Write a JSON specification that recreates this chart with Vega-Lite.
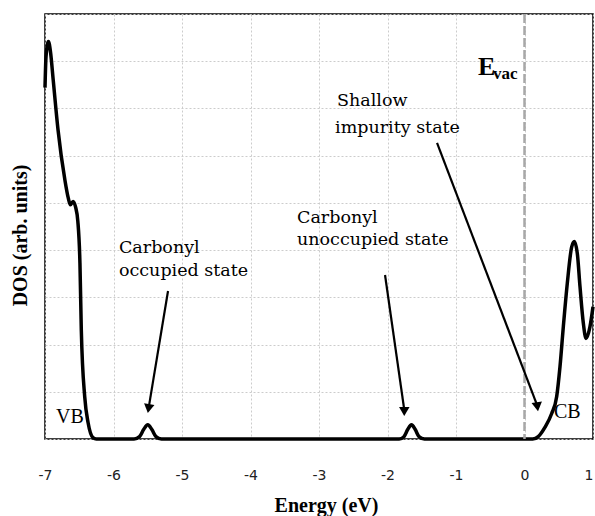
{
  "$schema": "https://vega.github.io/schema/vega-lite/v6.json",
  "width": 548,
  "height": 425,
  "autosize": "none",
  "padding": {"left": 45, "top": 14, "right": 2, "bottom": 77},
  "background": "white",
  "config": {"view": {"stroke": "black", "strokeWidth": 1.5}},
  "datasets": {
    "dos": [
      {"x": -7.0, "y": 7.44}, {"x": -6.985, "y": 8.1}, {"x": -6.95, "y": 8.42}, {"x": -6.92, "y": 8.2},
      {"x": -6.88, "y": 7.6}, {"x": -6.81, "y": 6.55}, {"x": -6.71, "y": 5.49}, {"x": -6.66, "y": 5.1},
      {"x": -6.63, "y": 4.96}, {"x": -6.59, "y": 5.03}, {"x": -6.555, "y": 4.92}, {"x": -6.52, "y": 4.6},
      {"x": -6.49, "y": 3.73}, {"x": -6.47, "y": 2.31}, {"x": -6.42, "y": 0.89}, {"x": -6.37, "y": 0.34},
      {"x": -6.3, "y": 0.03}, {"x": -6.25, "y": 0}, {"x": -5.7, "y": 0}, {"x": -5.62, "y": 0.05},
      {"x": -5.56, "y": 0.2}, {"x": -5.5, "y": 0.3}, {"x": -5.44, "y": 0.2}, {"x": -5.38, "y": 0.05},
      {"x": -5.3, "y": 0}, {"x": -1.83, "y": 0}, {"x": -1.76, "y": 0.05}, {"x": -1.705, "y": 0.2},
      {"x": -1.65, "y": 0.3}, {"x": -1.595, "y": 0.2}, {"x": -1.54, "y": 0.05}, {"x": -1.46, "y": 0},
      {"x": 0.12, "y": 0}, {"x": 0.2, "y": 0.05}, {"x": 0.3, "y": 0.25}, {"x": 0.397, "y": 0.54},
      {"x": 0.47, "y": 0.9}, {"x": 0.518, "y": 1.53}, {"x": 0.567, "y": 2.38}, {"x": 0.625, "y": 3.3},
      {"x": 0.689, "y": 4.07}, {"x": 0.727, "y": 4.18}, {"x": 0.771, "y": 3.93}, {"x": 0.81, "y": 3.23},
      {"x": 0.859, "y": 2.45}, {"x": 0.898, "y": 2.13}, {"x": 0.956, "y": 2.38}, {"x": 1.0, "y": 2.8}
    ],
    "arrows": [
      {"name": "occupied", "x": -5.204, "y": 3.134, "x2": -5.485, "y2": 0.676},
      {"name": "unoccupied", "x": -2.036, "y": 3.473, "x2": -1.755, "y2": 0.614},
      {"name": "shallow", "x": -1.277, "y": 6.269, "x2": 0.185, "y2": 0.714}
    ],
    "notes": [
      {"text": "Carbonyl", "x": -5.92, "y": 3.94},
      {"text": "occupied state", "x": -5.92, "y": 3.45},
      {"text": "Carbonyl", "x": -3.321, "y": 4.57},
      {"text": "unoccupied state", "x": -3.321, "y": 4.11},
      {"text": "Shallow", "x": -2.737, "y": 7.05},
      {"text": "impurity state", "x": -2.766, "y": 6.48}
    ],
    "bands": [
      {"text": "VB", "x": -6.84, "y": 0.34},
      {"text": "CB", "x": 0.43, "y": 0.44}
    ]
  },
  "layer": [
    {
      "data": {"name": "dos"},
      "mark": {"type": "line", "color": "black", "strokeWidth": 3.5, "interpolate": "monotone"},
      "encoding": {
        "x": {
          "field": "x", "type": "quantitative",
          "scale": {"domain": [-7, 1], "nice": false, "zero": false},
          "axis": {
            "title": "Energy (eV)", "values": [-7, -6, -5, -4, -3, -2, -1, 0, 1],
            "labelExpr": "'' + datum.value",
            "domain": false, "ticks": false, "labelFlush": false, "labelOverlap": false,
            "labelAlign": {"condition": {"test": "datum.value == 1", "value": "right"}, "value": "center"},
            "labelFont": "DejaVu Sans", "labelFontSize": 14, "labelColor": "#222222",
            "labelBaseline": "middle", "labelPadding": 36,
            "grid": true, "gridColor": "#cccccc", "gridDash": [2, 2], "gridWidth": 1,
            "titleFont": "Liberation Serif", "titleFontSize": 20, "titleFontWeight": "bold",
            "titleColor": "black", "titleX": 281, "titleY": 66, "titleBaseline": "middle", "titleAlign": "center"
          }
        },
        "y": {
          "field": "y", "type": "quantitative",
          "scale": {"domain": [0, 9], "nice": false, "zero": true},
          "axis": {
            "title": "DOS (arb. units)", "values": [0, 1, 2, 3, 4, 5, 6, 7, 8, 9],
            "domain": false, "ticks": false, "labels": false,
            "grid": true, "gridColor": "#cccccc", "gridDash": [2, 2], "gridWidth": 1,
            "titleFont": "Liberation Serif", "titleFontSize": 20, "titleFontWeight": "bold",
            "titleColor": "black", "titleAngle": 270, "titleX": -25, "titleY": 221,
            "titleBaseline": "middle", "titleAlign": "center"
          }
        }
      }
    },
    {
      "data": {"values": [{"x": 0}]},
      "mark": {"type": "rule", "color": "#a8a8a8", "strokeWidth": 2.5, "strokeDash": [9, 3]},
      "encoding": {"x": {"field": "x", "type": "quantitative"}}
    },
    {
      "data": {"name": "arrows"},
      "mark": {"type": "rule", "color": "black", "strokeWidth": 2.2},
      "encoding": {
        "x": {"field": "x", "type": "quantitative"},
        "y": {"field": "y", "type": "quantitative"},
        "x2": {"field": "x2"},
        "y2": {"field": "y2"}
      }
    },
    {
      "data": {"name": "arrows"},
      "mark": {"type": "point", "shape": "triangle", "filled": true, "color": "black", "size": 110, "opacity": 1},
      "encoding": {
        "x": {"field": "x2", "type": "quantitative"},
        "y": {"field": "y2", "type": "quantitative"},
        "angle": {
          "field": "name", "type": "nominal",
          "scale": {"domain": ["occupied", "unoccupied", "shallow"], "range": [189, 172, 159]},
          "legend": null
        }
      }
    },
    {
      "data": {"name": "notes"},
      "mark": {"type": "text", "font": "DejaVu Serif", "fontSize": 17.5, "color": "black", "align": "left", "baseline": "alphabetic"},
      "encoding": {
        "x": {"field": "x", "type": "quantitative"},
        "y": {"field": "y", "type": "quantitative"},
        "text": {"field": "text"}
      }
    },
    {
      "data": {"name": "bands"},
      "mark": {"type": "text", "font": "Liberation Serif", "fontSize": 20, "color": "black", "align": "left", "baseline": "alphabetic"},
      "encoding": {
        "x": {"field": "x", "type": "quantitative"},
        "y": {"field": "y", "type": "quantitative"},
        "text": {"field": "text"}
      }
    },
    {
      "data": {"values": [{"text": "E", "x": -0.679, "y": 7.71}]},
      "mark": {"type": "text", "font": "Liberation Serif", "fontSize": 26, "fontWeight": "bold", "color": "black", "align": "left", "baseline": "alphabetic"},
      "encoding": {
        "x": {"field": "x", "type": "quantitative"},
        "y": {"field": "y", "type": "quantitative"},
        "text": {"field": "text"}
      }
    },
    {
      "data": {"values": [{"text": "vac", "x": -0.46, "y": 7.62}]},
      "mark": {"type": "text", "font": "Liberation Serif", "fontSize": 17, "fontWeight": "bold", "color": "black", "align": "left", "baseline": "alphabetic"},
      "encoding": {
        "x": {"field": "x", "type": "quantitative"},
        "y": {"field": "y", "type": "quantitative"},
        "text": {"field": "text"}
      }
    }
  ]
}
